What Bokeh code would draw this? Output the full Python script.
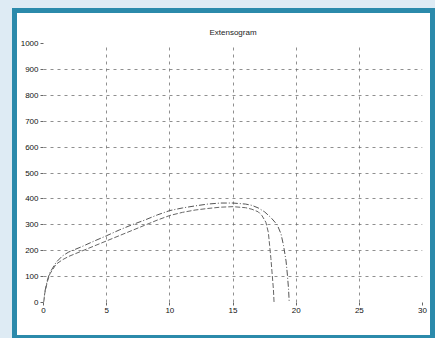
from bokeh.plotting import figure
from bokeh.layouts import column
from bokeh.models import Range1d, FixedTicker
from bokeh.embed import file_html
from bokeh.resources import INLINE

# Extensogram readings: resistance (BU) against extension (cm)
upper_x = [0, 0.1, 0.3, 0.5, 1.0, 1.5, 2.0, 3, 4, 5, 6, 7, 8, 9, 10, 11, 12, 13, 14, 15,
           16, 16.5, 17, 17.5, 18, 18.5, 18.8, 19.0, 19.2, 19.3, 19.4, 19.45]
upper_y = [0, 40, 85, 115, 155, 180, 195, 215, 237, 258, 280, 300, 318, 338, 355, 365, 373, 380, 384, 384,
           380, 375, 365, 350, 328, 300, 265, 220, 160, 110, 50, 0]

lower_x = [0, 0.1, 0.3, 0.5, 1, 1.5, 2, 3, 4, 5, 6, 7, 8, 9, 10, 11, 12, 13, 14, 15,
           16, 16.5, 17, 17.3, 17.6, 17.8, 17.9, 18.0, 18.1, 18.2, 18.25]
lower_y = [0, 35, 80, 110, 148, 165, 178, 198, 218, 238, 258, 278, 298, 318, 336, 348, 357, 363, 368, 370,
           366, 360, 350, 335, 310, 270, 220, 170, 110, 50, 0]

x_ticks = [0, 5, 10, 15, 20, 25, 30]
y_ticks = [0, 100, 200, 300, 400, 500, 600, 700, 800, 900, 1000]

FONT = "Liberation Sans"

p = figure(width=413, height=322, output_backend="svg", toolbar_location=None,
           title="Extensogram",
           x_range=Range1d(0, 30), y_range=Range1d(0, 1000),
           min_border_left=25, min_border_right=8, min_border_top=30, min_border_bottom=33)
p.styles = {"background-color": "white"}

p.background_fill_color = "white"
p.border_fill_color = "white"
p.outline_line_color = None

p.title.align = "center"
p.title.vertical_align = "top"
p.title.text_font = FONT
p.title.text_font_size = "8px"
p.title.text_font_style = "normal"
p.title.text_color = "#222222"
p.title.text_line_height = 1.6

for ax in (p.xaxis[0], p.yaxis[0]):
    ax.axis_line_color = None
    ax.minor_tick_line_color = None
    ax.major_tick_in = 0
    ax.major_tick_out = 3
    ax.major_tick_line_color = "#666666"
    ax.major_label_text_font = FONT
    ax.major_label_text_font_size = "8px"
    ax.major_label_text_color = "#111111"
    ax.major_label_standoff = 2

p.xaxis[0].ticker = FixedTicker(ticks=x_ticks)
p.yaxis[0].ticker = FixedTicker(ticks=y_ticks)

# interior dashed grid only (no lines on the frame edges)
p.xgrid.ticker = FixedTicker(ticks=x_ticks[1:-1])
p.ygrid.ticker = FixedTicker(ticks=y_ticks[1:-1])
for g in (p.xgrid[0], p.ygrid[0]):
    g.grid_line_color = "#6a6a6a"
    g.grid_line_dash = "3 4"
    g.grid_line_width = 1
    g.grid_line_alpha = 0.75

p.line(upper_x, upper_y, line_color="#555555", line_width=1, line_dash="6 2 1 2")
p.line(lower_x, lower_y, line_color="#666666", line_width=1, line_dash="5 2")

frame = column(p, styles={"background-color": "#2b8aab", "padding": "5px"})
page = column(frame, styles={"background-color": "#deebf4", "padding": "8px 0px 0px 12px"})

open("out.html", "w").write(file_html(page, INLINE))
